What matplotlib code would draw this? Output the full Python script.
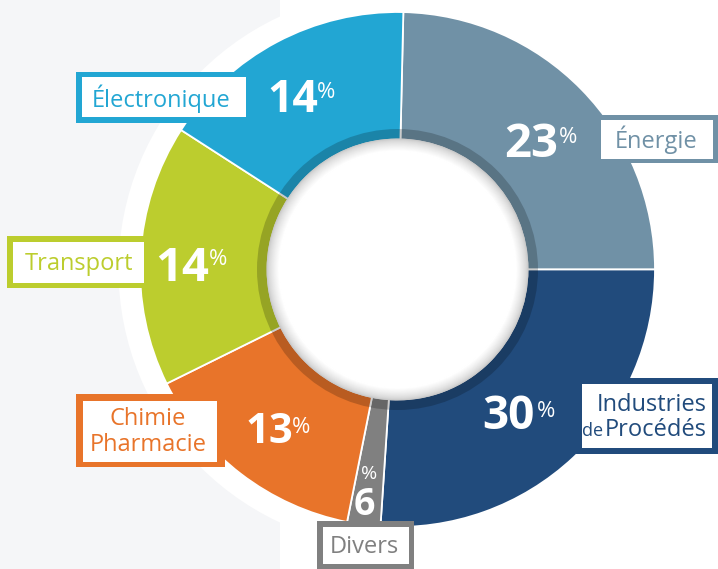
import matplotlib.pyplot as plt
import numpy as np
from matplotlib.patches import Circle, Rectangle

plt.rcParams["font.family"] = ["Open Sans", "DejaVu Sans"]

# data: clockwise from the top of the ring
SECTORS = ["Énergie", "Industries\nde Procédés", "Divers", "Chimie\nPharmacie", "Transport", "Électronique"]
SHARES = [23, 30, 6, 13, 14, 14]                  # printed percentages
SPANS_DEG = [88.7, 93.8, 7.5, 52.4, 59.1, 58.5]   # angular size as drawn in the picture
COLORS = ["#7091a6", "#214b7c", "#808080", "#e8742a", "#bccd2e", "#22a6d3"]
START_DEG = 1.3                                   # compass angle of the first slice edge

# layout, image pixel coordinates (y down)
W, H = 718, 569
CX, CY = 397.5, 269.5
R_OUT, R_BAND, R_HOLE, R_HALO = 257.5, 140.5, 130.0, 279.0
BG_GRAY = "#f5f6f8"

# outer box, inner box, number anchor (right edge, baseline, size), % anchor
LAYOUT = {
    "Énergie": dict(outer=(598, 115, 718, 163), inner=(601, 120, 713, 159),
                    num=(558, 157, 34), pct=(559, 143)),
    "Industries\nde Procédés": dict(outer=(576, 378, 718, 454), inner=(582, 384, 712, 448),
                                   num=(535, 429, 33), pct=(537, 417)),
    "Divers": dict(outer=(317, 521, 414, 569), inner=(323, 527, 409, 564),
                   num=(380, 515, 27), pct=(362, 479)),
    "Chimie\nPharmacie": dict(outer=(76, 394, 225, 467), inner=(83, 401, 217, 462),
                              num=(293, 443, 30), pct=(292, 433)),
    "Transport": dict(outer=(7, 236, 150, 288), inner=(13, 242, 144, 283),
                      num=(209, 281, 34), pct=(209, 265)),
    "Électronique": dict(outer=(76, 72, 252, 123), inner=(82, 77, 246, 117),
                         num=(318, 112, 32), pct=(317, 98)),
}


def rect(ax, box, color, z):
    x0, y0, x1, y1 = box
    ax.add_patch(Rectangle((x0, y0), x1 - x0, y1 - y0, facecolor=color, edgecolor="none", zorder=z))


fig = plt.figure(figsize=(W / 100, H / 100), dpi=100)
ax = fig.add_axes([0, 0, 1, 1])

# background: light gray band on the left, white halo round the ring
ax.add_patch(Rectangle((0, 0), 280, H, facecolor=BG_GRAY, edgecolor="none", zorder=0))
ax.add_patch(Circle((CX, CY), R_HALO, facecolor="white", edgecolor="none", zorder=1))

# y axis is inverted, so increasing angle runs clockwise on screen
fracs = np.array(SPANS_DEG) / 360.0
wedges, _ = ax.pie(fracs, colors=COLORS, center=(CX, CY), radius=R_OUT,
                   startangle=START_DEG - 90, counterclock=True, normalize=False,
                   frame=True, wedgeprops=dict(width=R_OUT - R_HOLE, edgecolor="white", linewidth=1.3))
for w in wedges:
    w.set_zorder(3)

# darker inner band and the hole with a soft rim shadow
ax.add_patch(Circle((CX, CY), R_BAND, facecolor="black", alpha=0.2, edgecolor="none", zorder=4))
ax.add_patch(Circle((CX, CY), R_HOLE, facecolor="white", edgecolor="none", zorder=5))
for i in range(14):
    shade = 0.79 + 0.21 * (i / 13) ** 0.7
    ax.add_patch(Circle((CX, CY), R_HOLE - i * 0.9, fill=False, lw=1.3,
                        edgecolor=(shade, shade, shade), zorder=6))

# label boxes and numbers
for name, share, color in zip(SECTORS, SHARES, COLORS):
    lay = LAYOUT[name]
    rect(ax, lay["outer"], color, 7)
    rect(ax, lay["inner"], "white", 8)

    nx, ny, nsize = lay["num"]
    px, py = lay["pct"]
    if name == "Divers":
        ax.text((lay["inner"][0] + lay["inner"][2]) / 2 - 2, ny, str(share), color="white",
                fontsize=nsize, fontweight="bold", ha="center", va="baseline", zorder=9)
        ax.text(px + 7, py, "%", color="white", fontsize=14, ha="center", va="baseline", zorder=9)
    else:
        ax.text(nx, ny, str(share), color="white", fontsize=nsize, fontweight="bold",
                ha="right", va="baseline", zorder=9)
        ax.text(px, py, "%", color="white", fontsize=16, ha="left", va="baseline", zorder=9)

# category names
tkw = dict(fontsize=17, va="baseline", zorder=9)
ax.text(656, 148, "Énergie", color=COLORS[0], ha="center", **tkw)
ax.text(707, 411, "Industries", color=COLORS[1], ha="right", **tkw)
proc = ax.text(707, 436, "Procédés", color=COLORS[1], ha="right", **tkw)
ax.text(364, 553, "Divers", color=COLORS[2], ha="center", **tkw)
ax.text(148, 425, "Chimie", color=COLORS[3], ha="center", **tkw)
ax.text(148, 451, "Pharmacie", color=COLORS[3], ha="center", **tkw)
ax.text(79, 270, "Transport", color=COLORS[4], ha="center", **tkw)
ax.text(161, 107, "Électronique", color=COLORS[5], ha="center", **tkw)

ax.set_xlim(0, W)
ax.set_ylim(H, 0)
ax.set_aspect("equal")
ax.axis("off")

# small "de" just left of "Procédés"
fig.canvas.draw()
bb = proc.get_window_extent()
x_de = ax.transData.inverted().transform((bb.x0, bb.y0))[0] - 2
ax.text(x_de, 436, "de", color=COLORS[1], ha="right", fontsize=13, va="baseline", zorder=9)

fig.savefig("out.png", dpi=100, facecolor="white")
